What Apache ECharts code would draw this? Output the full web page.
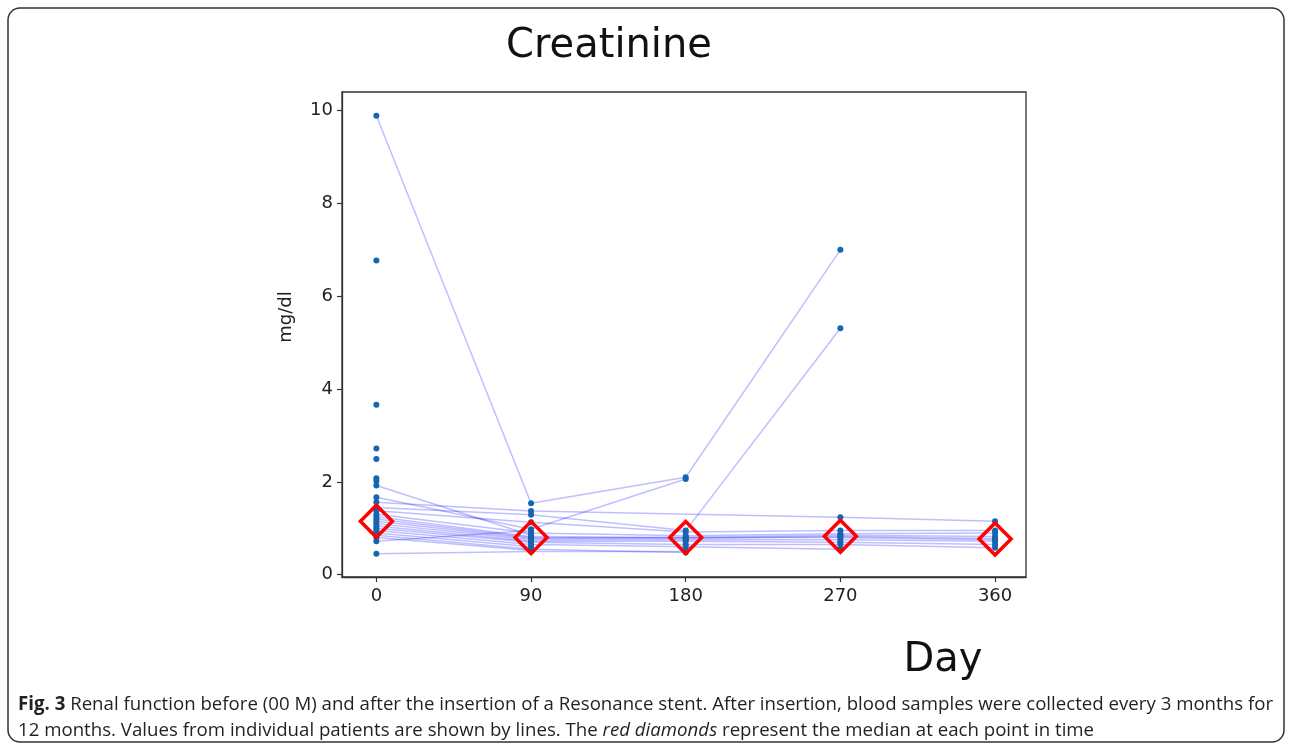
<!DOCTYPE html>
<html><head><meta charset="utf-8">
<script src="https://cdn.jsdelivr.net/npm/echarts@6/dist/echarts.min.js"></script>
<style>html,body{margin:0;padding:0;background:#fff}#c{width:1292px;height:750px}</style>
</head><body><div id="c"></div>
<script>
// ---- data ----
const days = [0, 90, 180, 270, 360];
const xTickValues = [0, 90, 180, 270, 360];
const yTickValues = [0, 2, 4, 6, 8, 10];
// creatinine (mg/dl) per patient at day 0, 90, 180, 270, 360 (null = missing)
const patient01 = [9.89, 1.54, 2.10, 7.00, null];
const patient02 = [1.92, 0.85, null, null, null];
const patient03 = [1.67, 0.98, 2.06, null, null];
const patient04 = [1.56, 1.37, null, 1.24, 1.15];
const patient05 = [1.45, 1.29, 0.95, 5.31, null];
const patient06 = [1.38, 1.13, 0.92, 0.95, 0.95];
const patient07 = [1.30, 0.90, 0.84, 0.88, 0.90];
const patient08 = [1.25, 0.82, 0.80, 0.85, 0.82];
const patient09 = [1.20, 0.80, 0.78, 0.82, 0.78];
const patient10 = [1.15, 0.78, 0.80, 0.80, 0.75];
const patient11 = [1.10, 0.75, 0.75, 0.75, 0.72];
const patient12 = [1.05, 0.72, 0.72, 0.70, 0.65];
const patient13 = [1.00, 0.70, 0.65, 0.65, 0.58];
const patient14 = [0.95, 0.65, 0.60, 0.55, null];
const patient15 = [0.90, 0.60, null, null, null];
const patient16 = [0.85, 0.55, 0.48, null, null];
const patient17 = [0.80, 0.52, null, null, null];
const patient18 = [0.72, 0.95, null, null, null];
const patient19 = [0.45, 0.50, 0.50, null, null];
const baselineOnly = [6.77, 3.66, 2.72, 2.49, 2.08, 2.02];
const medians = [1.15, 0.80, 0.80, 0.83, 0.77];

const patients = [patient01, patient02, patient03, patient04, patient05, patient06, patient07,
  patient08, patient09, patient10, patient11, patient12, patient13, patient14, patient15,
  patient16, patient17, patient18, patient19];

const captionLine1 = 'Renal function before (00 M) and after the insertion of a Resonance stent. After insertion, blood samples were collected every 3 months for';
const captionLine2a = '12 months. Values from individual patients are shown by lines. The ';
const captionLine2b = 'red diamonds';
const captionLine2c = ' represent the median at each point in time';

// ---- build ----
const lineSeries = patients.map(p => ({
  type: 'line',
  data: days.map((d, i) => [d, p[i]]).filter(v => v[1] != null),
  symbol: 'none',
  silent: true,
  z: 2,
  lineStyle: { color: 'rgba(20,20,255,0.27)', width: 1.5 }
}));
const allPoints = [];
patients.forEach(p => days.forEach((d, i) => { if (p[i] != null) allPoints.push([d, p[i]]); }));
baselineOnly.forEach(v => allPoints.push([0, v]));

// measure caption to fit width
const cv = document.createElement('canvas').getContext('2d');
const capFont = '"Open Sans", sans-serif';
const capSize = 19;
cv.font = 'bold ' + capSize + 'px ' + capFont;
let w1 = cv.measureText('Fig. 3').width;
cv.font = capSize + 'px ' + capFont;
w1 += cv.measureText(' ' + captionLine1).width;
const capScale = (1273 - 18) / w1;

function axisBase(ticks) {
  return {
    axisLine: { show: true, onZero: false, lineStyle: { color: '#333', width: 1.3 } },
    axisTick: { show: true, inside: false, length: 5, customValues: ticks, lineStyle: { color: '#333', width: 1.2 } },
    splitLine: { show: false },
  };
}

const chart = echarts.init(document.getElementById('c'));
chart.setOption({
  animation: false,
  backgroundColor: '#fff',
  grid: { left: 342, top: 92, width: 684, height: 485, show: true, borderColor: '#333', borderWidth: 1.3, backgroundColor: '#fff' },
  xAxis: Object.assign({
    type: 'value', min: -20, max: 378,
    axisLabel: { customValues: xTickValues, fontSize: 18, color: '#222', margin: 10, fontFamily: 'DejaVu Sans' },
  }, axisBase(xTickValues)),
  yAxis: Object.assign({
    type: 'value', min: -0.05, max: 10.4,
    axisLabel: { customValues: yTickValues, fontSize: 18, color: '#222', margin: 9, fontFamily: 'DejaVu Sans' },
  }, axisBase(yTickValues)),
  series: lineSeries.concat([
    { type: 'scatter', data: allPoints, symbolSize: 6, z: 3, silent: true, itemStyle: { color: '#1565b0', opacity: 1 } },
    { type: 'scatter', data: days.map((d, i) => [d, medians[i]]), symbol: 'diamond', symbolSize: 32, z: 4, silent: true,
      itemStyle: { color: 'rgba(0,0,0,0)', borderColor: '#ff0000', borderWidth: 3.5, opacity: 1 } }
  ]),
  graphic: [
    { type: 'rect', shape: { x: 8, y: 8, width: 1276, height: 734, r: 12 }, style: { fill: 'none', stroke: '#333', lineWidth: 1.5 }, z: 10 },
    { type: 'text', x: 609, y: 47, style: { text: 'Creatinine', font: '40px "DejaVu Sans"', fill: '#111', textAlign: 'center', textVerticalAlign: 'middle' } },
    { type: 'text', x: 943, y: 661, style: { text: 'Day', font: '40px "DejaVu Sans"', fill: '#111', textAlign: 'center', textVerticalAlign: 'middle' } },
    { type: 'text', x: 286, y: 317, rotation: Math.PI / 2, style: { text: 'mg/dl', font: '18px "DejaVu Sans"', fill: '#222', textAlign: 'center', textVerticalAlign: 'middle' } },
    { type: 'text', x: 18, y: 705, scaleX: capScale, style: {
        text: '{b|Fig. 3} ' + captionLine1, textVerticalAlign: 'middle', fill: '#231f20',
        font: capSize + 'px ' + capFont,
        rich: { b: { fontWeight: 'bold', fontSize: capSize, fontFamily: capFont, fill: '#231f20' } } } },
    { type: 'text', x: 18, y: 731, scaleX: capScale, style: {
        text: captionLine2a + '{i|' + captionLine2b + '}' + captionLine2c, textVerticalAlign: 'middle', fill: '#231f20',
        font: capSize + 'px ' + capFont,
        rich: { i: { fontStyle: 'italic', fontSize: capSize, fontFamily: capFont, fill: '#231f20' } } } }
  ]
});
</script></body></html>
